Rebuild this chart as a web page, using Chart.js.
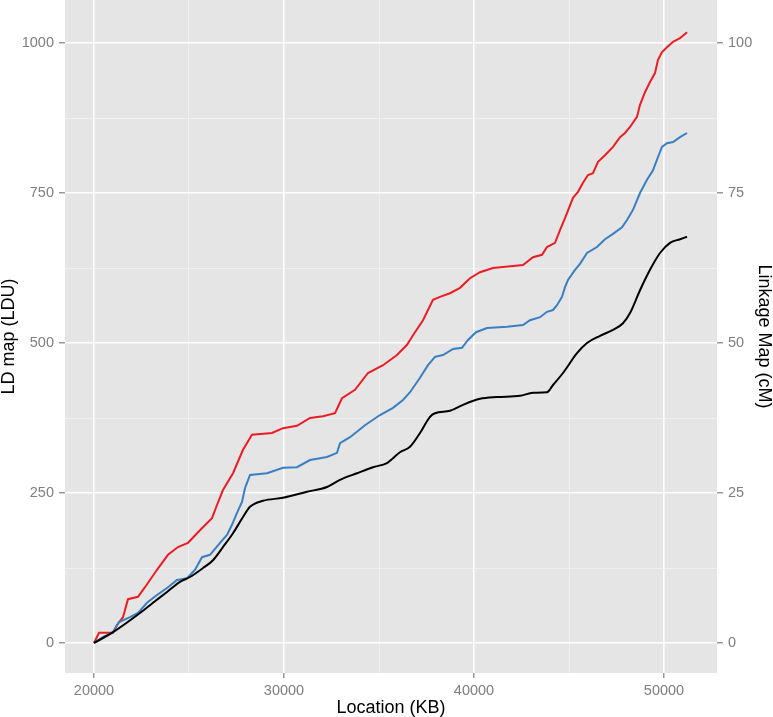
<!DOCTYPE html>
<html>
<head>
<meta charset="utf-8">
<script src="https://cdn.jsdelivr.net/npm/chart.js@4.4.1/dist/chart.umd.min.js"></script>
<style>
  html, body { margin: 0; padding: 0; background: #fff; }
</style>
</head>
<body>
<canvas id="ldChart" width="773" height="717"></canvas>
<script>
// Location (KB) / LD map (LDU) - red series
const redX = [20000, 20263, 21000, 21210, 21526, 21789, 22316, 22684, 23316, 23895, 24421, 24947, 25579, 26210, 26474, 26789, 27316, 27842, 28316, 29368, 29947, 30684, 31368, 32053, 32684, 33053, 33737, 34421, 35211, 35947, 36474, 36789, 37316, 37842, 38211, 38737, 39263, 39789, 40316, 41000, 42579, 43105, 43579, 43842, 44263, 44526, 44789, 45211, 45474, 45737, 46000, 46263, 46526, 46895, 47316, 47684, 47947, 48211, 48579, 48737, 49000, 49263, 49526, 49684, 49895, 50158, 50474, 50842, 51211];
const redY = [0, 17, 17, 30, 43, 73, 77, 93, 122, 147, 160, 167, 188, 208, 230, 255, 283, 322, 347, 350, 358, 362, 375, 378, 383, 408, 422, 450, 463, 480, 497, 513, 538, 572, 577, 583, 592, 608, 618, 625, 630, 643, 647, 660, 667, 688, 708, 742, 752, 767, 780, 783, 802, 813, 827, 843, 850, 860, 877, 897, 918, 935, 950, 972, 985, 993, 1002, 1008, 1018];

// blue series (LDU)
const blueX = [20000, 20474, 21000, 21316, 21895, 22316, 22789, 23316, 23895, 24368, 24895, 25316, 25684, 26105, 26632, 27000, 27263, 27526, 27789, 27947, 28211, 29105, 29947, 30684, 31368, 32263, 32789, 32947, 33474, 34263, 35053, 35737, 36263, 36632, 37158, 37579, 37947, 38368, 38895, 39368, 39684, 40105, 40684, 41737, 42579, 42947, 43474, 43842, 44158, 44368, 44632, 44789, 44947, 45316, 45579, 45947, 46474, 46895, 47316, 47789, 48053, 48368, 48737, 49105, 49421, 49684, 49895, 50158, 50474, 50842, 51211];
const blueY = [0, 10, 18, 35, 43, 50, 67, 80, 93, 105, 108, 122, 143, 147, 167, 180, 197, 217, 235, 258, 280, 283, 292, 293, 305, 310, 317, 333, 343, 363, 380, 392, 405, 418, 442, 463, 477, 480, 490, 492, 505, 518, 525, 527, 530, 538, 543, 552, 555, 563, 577, 593, 605, 622, 632, 650, 660, 673, 682, 693, 705, 722, 750, 772, 788, 810, 827, 833, 835, 843, 850];

// black series: Linkage Map (cM)
const blackX = [20000, 21000, 22421, 23105, 23842, 24526, 25053, 25737, 26263, 26789, 27316, 27842, 28211, 28895, 29947, 31211, 32263, 32947, 33842, 34684, 35421, 35737, 36105, 36632, 37158, 37684, 37947, 38737, 39421, 40316, 41211, 42421, 43105, 43842, 44158, 44684, 45421, 45947, 46632, 47316, 47842, 48211, 48737, 49263, 49789, 50316, 50842, 51211];
const blackY = [0, 1.8, 5.0, 6.7, 8.5, 10.2, 11.0, 12.5, 13.8, 16.0, 18.3, 21.0, 22.7, 23.7, 24.2, 25.2, 26.0, 27.2, 28.3, 29.3, 30.0, 30.8, 31.8, 32.7, 35.0, 37.7, 38.3, 38.7, 39.7, 40.7, 41.0, 41.2, 41.7, 41.8, 43.0, 45.0, 48.3, 50.0, 51.2, 52.2, 53.3, 55.0, 58.8, 62.2, 65.0, 66.7, 67.3, 67.7];

// tick labels
const xTicks = [20000, 30000, 40000, 50000];
const xMinor = [25000, 35000, 45000];
const yTicks = [0, 250, 500, 750, 1000];
const yMinor = [125, 375, 625, 875];
const y2Ticks = [0, 25, 50, 75, 100];

const toPoints = (xs, ys) => xs.map((x, i) => ({ x: x, y: ys[i] }));

const tickFont = { family: "'Liberation Sans', Arial, sans-serif", size: 14.5 };
const titleFont = { family: "'Liberation Sans', Arial, sans-serif", size: 18, lineHeight: 1 };

function axisOpts(major, minor, min, max, width, height, onChart) {
  return {
    type: "linear",
    min: min,
    max: max,
    border: { display: false },
    afterBuildTicks: (scale) => {
      scale.ticks = major.concat(minor).map(v => ({ value: v }));
    },
    afterFit: (scale) => {
      if (width) scale.width = width;
      if (height) scale.height = height;
      scale.paddingTop = 0; scale.paddingBottom = 0;
      scale.paddingLeft = 0; scale.paddingRight = 0;
    },
    grid: {
      drawOnChartArea: onChart,
      color: (c) => major.includes(c.tick && c.tick.value) ? "#ffffff" : "#f2f2f2",
      lineWidth: (c) => major.includes(c.tick && c.tick.value) ? 1.6 : 0.8,
      tickColor: (c) => major.includes(c.tick && c.tick.value) ? "#7f7f7f" : "rgba(0,0,0,0)",
      tickWidth: 1.2,
      tickLength: 6
    },
    ticks: {
      color: "#7f7f7f",
      font: tickFont,
      padding: 5,
      autoSkip: false,
      maxRotation: 0,
      callback: (v) => major.includes(v) ? String(v) : ""
    }
  };
}

const panelBg = {
  id: "panelBg",
  beforeDraw(chart) {
    const a = chart.chartArea, ctx = chart.ctx;
    ctx.save();
    ctx.fillStyle = "#e5e5e5";
    ctx.fillRect(a.left, a.top, a.right - a.left, a.bottom - a.top);
    ctx.restore();
  }
};

const xAxis = axisOpts(xTicks, xMinor, 18474, 52789, null, 44, true);
xAxis.position = "bottom";
xAxis.ticks.padding = 4;
xAxis.grid.tickLength = 5;
xAxis.title = { display: true, text: "Location (KB)", color: "#000", font: titleFont, padding: 0 };

const yAxis = axisOpts(yTicks, yMinor, -50, 1071.7, 65, null, true);
yAxis.position = "left";
yAxis.title = { display: true, text: "LD map (LDU)", color: "#000", font: titleFont, padding: 0 };

const y2Axis = axisOpts(y2Ticks, [], -5, 107.17, 56, null, false);
y2Axis.position = "right";
y2Axis.title = { display: true, text: "Linkage Map (cM)", color: "#000", font: titleFont, padding: 0 };

new Chart(document.getElementById("ldChart").getContext("2d"), {
  type: "line",
  data: {
    datasets: [
      {
        label: "Linkage map",
        data: toPoints(blackX, blackY),
        yAxisID: "y2",
        borderColor: "#000000",
        borderWidth: 2,
        pointRadius: 0,
        cubicInterpolationMode: "monotone"
      },
      {
        label: "LD map (blue)",
        data: toPoints(blueX, blueY),
        yAxisID: "y",
        borderColor: "#3a7fc1",
        borderWidth: 2,
        pointRadius: 0,
        tension: 0
      },
      {
        label: "LD map (red)",
        data: toPoints(redX, redY),
        yAxisID: "y",
        borderColor: "#ec1c24",
        borderWidth: 2,
        pointRadius: 0,
        tension: 0
      }
    ]
  },
  options: {
    responsive: false,
    animation: false,
    layout: { padding: 0 },
    plugins: { legend: { display: false }, tooltip: { enabled: false } },
    scales: { x: xAxis, y: yAxis, y2: y2Axis }
  },
  plugins: [panelBg]
});
</script>
</body>
</html>
